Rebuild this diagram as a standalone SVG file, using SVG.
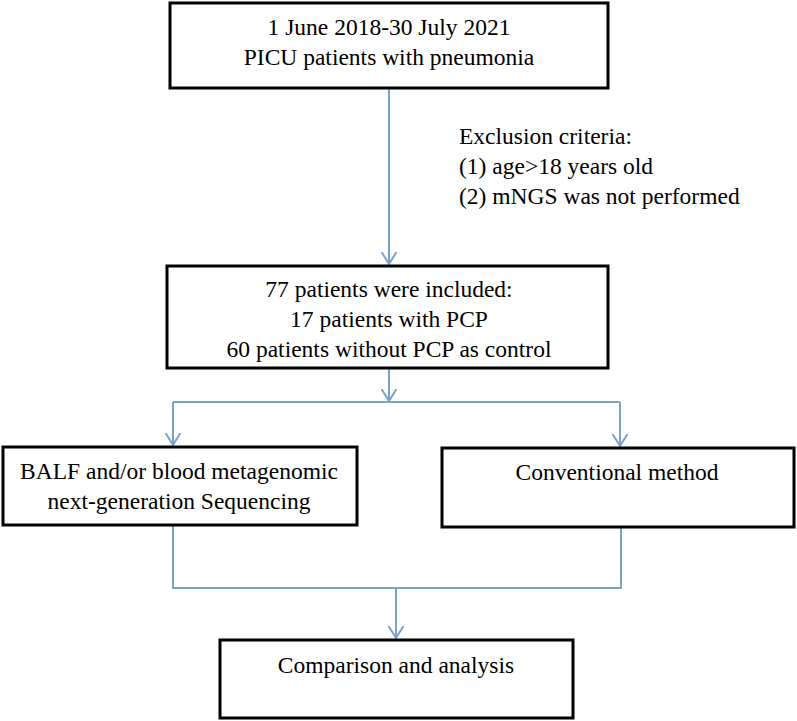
<svg xmlns="http://www.w3.org/2000/svg" width="797" height="721" viewBox="0 0 797 721">
<style>
.box{fill:#fff;stroke:#000;stroke-width:3}
.t{font-family:"Liberation Serif","Times New Roman",serif;font-size:23.5px;fill:#000}
.c{text-anchor:middle}
.ln{fill:none;stroke:#7aa3cb;stroke-width:2}
</style>
<defs>
<marker id="ah" viewBox="0 0 13 16" refX="12.5" refY="8" markerWidth="13" markerHeight="16" markerUnits="userSpaceOnUse" orient="auto">
<path d="M0.5,0.5 L12.5,8 L0.5,15.5" fill="none" stroke="#7aa3cb" stroke-width="2"/>
</marker>
</defs>
<rect width="797" height="721" fill="#fff"/>
<g id="connectors">
<path class="ln" d="M389,88 V264" marker-end="url(#ah)"/>
<path class="ln" d="M389,368 V401" marker-end="url(#ah)"/>
<path class="ln" d="M173,402 H620"/>
<path class="ln" d="M173,402 V445" marker-end="url(#ah)"/>
<path class="ln" d="M620,402 V446" marker-end="url(#ah)"/>
<path class="ln" d="M173,525 V588 H621 V527"/>
<path class="ln" d="M396,588 V638" marker-end="url(#ah)"/>
</g>
<g id="n1">
<rect class="box" x="170" y="3" width="438" height="85"/>
<text class="t c" x="389" y="35">1 June 2018-30 July 2021</text>
<text class="t c" x="389" y="65">PICU patients with pneumonia</text>
</g>
<g id="excl">
<text class="t" x="459" y="144">Exclusion criteria:</text>
<text class="t" x="459" y="174">(1) age&gt;18 years old</text>
<text class="t" x="459" y="204">(2) mNGS was not performed</text>
</g>
<g id="n2">
<rect class="box" x="167" y="266" width="441" height="102"/>
<text class="t c" x="389" y="297">77 patients were included:</text>
<text class="t c" x="389" y="327">17 patients with PCP</text>
<text class="t c" x="389" y="357">60 patients without PCP as control</text>
</g>
<g id="n3">
<rect class="box" x="3" y="447" width="354" height="78"/>
<text class="t c" x="179" y="479">BALF and/or blood metagenomic</text>
<text class="t c" x="179" y="509">next-generation Sequencing</text>
</g>
<g id="n4">
<rect class="box" x="442" y="448" width="352" height="79"/>
<text class="t c" x="617" y="480">Conventional method</text>
</g>
<g id="n5">
<rect class="box" x="220" y="640" width="353" height="78"/>
<text class="t c" x="396" y="673">Comparison and analysis</text>
</g>
</svg>
